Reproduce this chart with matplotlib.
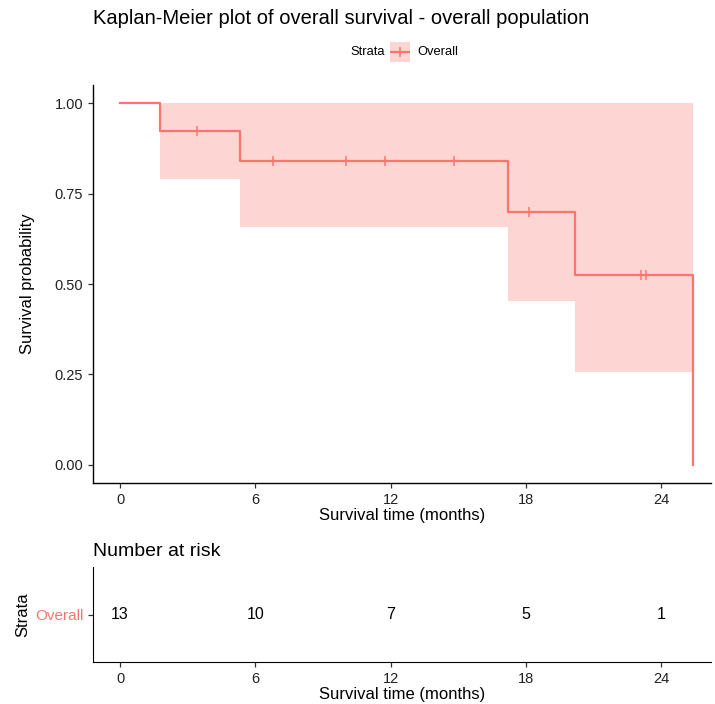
import numpy as np
import matplotlib
matplotlib.use("Agg")
import matplotlib.pyplot as plt

# ---------- data ----------
event_times = [0, 1.78, 5.3, 17.2, 20.15, 25.4]
surv = [1.0, 0.923, 0.839, 0.699, 0.524, 0.0]
ci_lower = [1.0, 0.789, 0.657, 0.453, 0.256]
ci_upper = [1.0, 1.0, 1.0, 1.0, 1.0]
censor_times = [3.4, 6.78, 10.0, 11.73, 14.8, 18.15, 23.1, 23.33]
risk_times = [0, 6, 12, 18, 24]
n_risk = [13, 10, 7, 5, 1]
x_ticks = [0, 6, 12, 18, 24]
y_ticks = [0.0, 0.25, 0.5, 0.75, 1.0]

RED = "#F8766D"
FILL = "#FDD5D3"
plt.rcParams["font.family"] = ["Liberation Sans", "DejaVu Sans"]

fig = plt.figure(figsize=(7.15, 7.04), dpi=100)
W, H = 715, 704


def box(l, t, r, b):
    return [l / W, 1 - b / H, (r - l) / W, (b - t) / H]


# ---------- KM plot ----------
ax = fig.add_axes(box(93, 85, 711, 483))
band_x = event_times[1:]
band_lo = ci_lower[1:] + [ci_lower[-1]]
band_hi = ci_upper[1:] + [ci_upper[-1]]
ax.fill_between(band_x, band_lo, band_hi, step="post", color=FILL, lw=0)
ax.step(event_times, surv, where="post", color=RED, lw=1.6)

idx = np.searchsorted(event_times, censor_times, side="right") - 1
censor_surv = [surv[i] for i in idx]
ax.plot(censor_times, censor_surv, ls="none", marker="|", ms=7, mew=1.1, color=RED)

ax.set_xlim(-1.2, 26.2)
ax.set_ylim(-0.05, 1.05)
ax.set_xticks(x_ticks)
ax.set_yticks(y_ticks)
ax.set_yticklabels([f"{v:.2f}" for v in y_ticks])
ax.set_xlabel("Survival time (months)", fontsize=12, labelpad=1)
ax.set_ylabel("Survival probability", fontsize=12, labelpad=14)
for s in ["top", "right"]:
    ax.spines[s].set_visible(False)
for s in ["left", "bottom"]:
    ax.spines[s].set_linewidth(1.0)
ax.tick_params(labelsize=10.5, length=3.5, width=0.9, colors="#333333", labelcolor="#222222")

fig.text(93 / W, 1 - 18 / H, "Kaplan-Meier plot of overall survival - overall population",
         fontsize=14.5, va="center", ha="left")

# legend: title, key box, label
fig.text(350 / W, 1 - 52 / H, "Strata", fontsize=9.3, va="center", ha="left")
key = fig.add_axes(box(390, 42, 410, 62))
key.set_facecolor(FILL)
key.plot([0, 1], [0.5, 0.5], color=RED, lw=1.6)
key.plot([0.5], [0.5], marker="|", ms=7, mew=1.1, color=RED)
key.set_xlim(0, 1)
key.set_ylim(0, 1)
key.set_xticks([])
key.set_yticks([])
for s in key.spines.values():
    s.set_visible(False)
fig.text(417 / W, 1 - 52 / H, "Overall", fontsize=9.3, va="center", ha="left")

# ---------- risk table ----------
rt = fig.add_axes(box(93, 567, 711, 662))
for t, n in zip(risk_times, n_risk):
    rt.text(t, 0, str(n), ha="center", va="center", fontsize=11.5)
rt.set_xlim(-1.2, 26.2)
rt.set_ylim(-1, 1)
rt.set_xticks(x_ticks)
rt.set_yticks([0])
rt.set_yticklabels(["Overall"])
rt.set_xlabel("Survival time (months)", fontsize=12, labelpad=1)
rt.set_ylabel("Strata", fontsize=12, labelpad=3)
for s in ["top", "right"]:
    rt.spines[s].set_visible(False)
rt.tick_params(labelsize=10.5, length=3.5, width=0.9, colors="#333333", labelcolor="#222222")
rt.tick_params(axis="y", labelsize=11)
rt.get_yticklabels()[0].set_color(RED)
rt.set_title("Number at risk", loc="left", fontsize=14, pad=8)

fig.savefig("out.png", dpi=100)
